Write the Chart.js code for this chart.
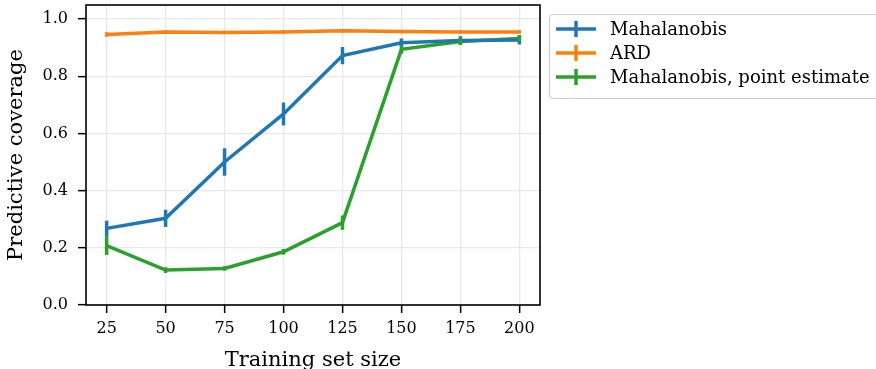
<!DOCTYPE html>
<html>
<head>
<meta charset="utf-8">
<script src="https://cdn.jsdelivr.net/npm/chart.js@4"></script>
<style>
  html, body { margin: 0; padding: 0; background: #fff; }
</style>
</head>
<body>
<canvas id="coverageChart" width="876" height="369"></canvas>
<script>
const sizes = [25, 50, 75, 100, 125, 150, 175, 200];
const yTicks = [0, 0.2, 0.4, 0.6, 0.8, 1.0];

const mahalanobis    = [0.268, 0.303, 0.500, 0.668, 0.872, 0.917, 0.925, 0.927];
const mahalanobisErr = [0.027, 0.030, 0.048, 0.040, 0.030, 0.015, 0.015, 0.016];
const ard            = [0.946, 0.955, 0.953, 0.955, 0.959, 0.956, 0.955, 0.955];
const ardErr         = [0.008, 0.006, 0.006, 0.006, 0.006, 0.006, 0.006, 0.006];
const pointEst       = [0.208, 0.122, 0.128, 0.186, 0.288, 0.894, 0.921, 0.932];
const pointEstErr    = [0.033, 0.010, 0.008, 0.010, 0.025, 0.015, 0.012, 0.012];

const FONT = "'DejaVu Serif', 'Liberation Serif', serif";

function series(label, values, errors, color) {
  return {
    label: label,
    data: sizes.map((x, i) => ({ x: x, y: values[i] })),
    errors: errors,
    borderColor: color,
    backgroundColor: color,
    borderWidth: 3.5,
    pointRadius: 0,
    tension: 0
  };
}

// vertical error bars, no caps
const errorBars = {
  id: 'errorBars',
  afterDatasetsDraw(chart) {
    const ctx = chart.ctx;
    const xs = chart.scales.x, ys = chart.scales.y;
    chart.data.datasets.forEach(ds => {
      ctx.save();
      ctx.strokeStyle = ds.borderColor;
      ctx.lineWidth = 3.5;
      ds.data.forEach((p, i) => {
        const e = ds.errors[i];
        const px = xs.getPixelForValue(p.x);
        ctx.beginPath();
        ctx.moveTo(px, ys.getPixelForValue(p.y - e));
        ctx.lineTo(px, ys.getPixelForValue(p.y + e));
        ctx.stroke();
      });
      ctx.restore();
    });
  }
};

// black box around the plot area
const frame = {
  id: 'frame',
  afterDraw(chart) {
    const a = chart.chartArea, ctx = chart.ctx;
    ctx.save();
    ctx.strokeStyle = '#000';
    ctx.lineWidth = 1.6;
    ctx.strokeRect(a.left, a.top, a.right - a.left, a.bottom - a.top);
    ctx.restore();
  }
};

// legend box outside the axes, matplotlib style
const sideLegend = {
  id: 'sideLegend',
  afterDraw(chart) {
    const ctx = chart.ctx;
    const bx = 549, by = 14, bw = 340, bh = 84;
    ctx.save();
    ctx.beginPath();
    ctx.roundRect(bx + 0.5, by + 0.5, bw, bh, 4);
    ctx.fillStyle = 'rgba(255,255,255,0.8)';
    ctx.fill();
    ctx.strokeStyle = '#cccccc';
    ctx.lineWidth = 1.2;
    ctx.stroke();
    ctx.font = '18px ' + FONT;
    ctx.textBaseline = 'middle';
    chart.data.datasets.forEach((ds, i) => {
      const y = 29 + i * 24;
      ctx.strokeStyle = ds.borderColor;
      ctx.lineWidth = 3.5;
      ctx.beginPath();
      ctx.moveTo(556, y);
      ctx.lineTo(596, y);
      ctx.moveTo(576, y - 8);
      ctx.lineTo(576, y + 8);
      ctx.stroke();
      ctx.fillStyle = '#000';
      ctx.fillText(ds.label, 610, y + 1);
    });
    ctx.restore();
  }
};

new Chart(document.getElementById('coverageChart'), {
  type: 'line',
  data: {
    datasets: [
      series('Mahalanobis', mahalanobis, mahalanobisErr, '#1f77b4'),
      series('ARD', ard, ardErr, '#ff7f0e'),
      series('Mahalanobis, point estimate', pointEst, pointEstErr, '#2ca02c')
    ]
  },
  options: {
    responsive: false,
    animation: false,
    devicePixelRatio: 1,
    layout: { padding: { left: 0, right: 336, top: 5, bottom: 0 } },
    plugins: { legend: { display: false }, tooltip: { enabled: false } },
    scales: {
      x: {
        type: 'linear',
        min: 16.25,
        max: 208.75,
        afterBuildTicks: s => { s.ticks = sizes.map(v => ({ value: v })); },
        afterFit: s => { s.height = 64; s.paddingLeft = 0; s.paddingRight = 0; },
        border: { display: false },
        grid: { color: '#e8e8e8', lineWidth: 1.3, tickColor: '#000', tickLength: 8, tickWidth: 1.5 },
        ticks: { color: '#000', font: { family: FONT, size: 16 }, padding: 6, maxRotation: 0 },
        title: { display: true, text: 'Training set size', color: '#000', font: { family: FONT, size: 21 }, padding: { top: 0, bottom: -4 } }
      },
      y: {
        min: 0,
        max: 1.049,
        afterBuildTicks: s => { s.ticks = yTicks.map(v => ({ value: v })); },
        afterFit: s => { s.width = 86; s.paddingTop = 0; s.paddingBottom = 0; },
        border: { display: false },
        grid: { color: '#e8e8e8', lineWidth: 1.3, tickColor: '#000', tickLength: 8, tickWidth: 1.5 },
        ticks: { color: '#000', font: { family: FONT, size: 16 }, padding: 10, callback: v => v.toFixed(1) },
        title: { display: true, text: 'Predictive coverage', color: '#000', font: { family: FONT, size: 21 }, padding: { top: 4, bottom: 0 } }
      }
    }
  },
  plugins: [errorBars, frame, sideLegend]
});
</script>
</body>
</html>
